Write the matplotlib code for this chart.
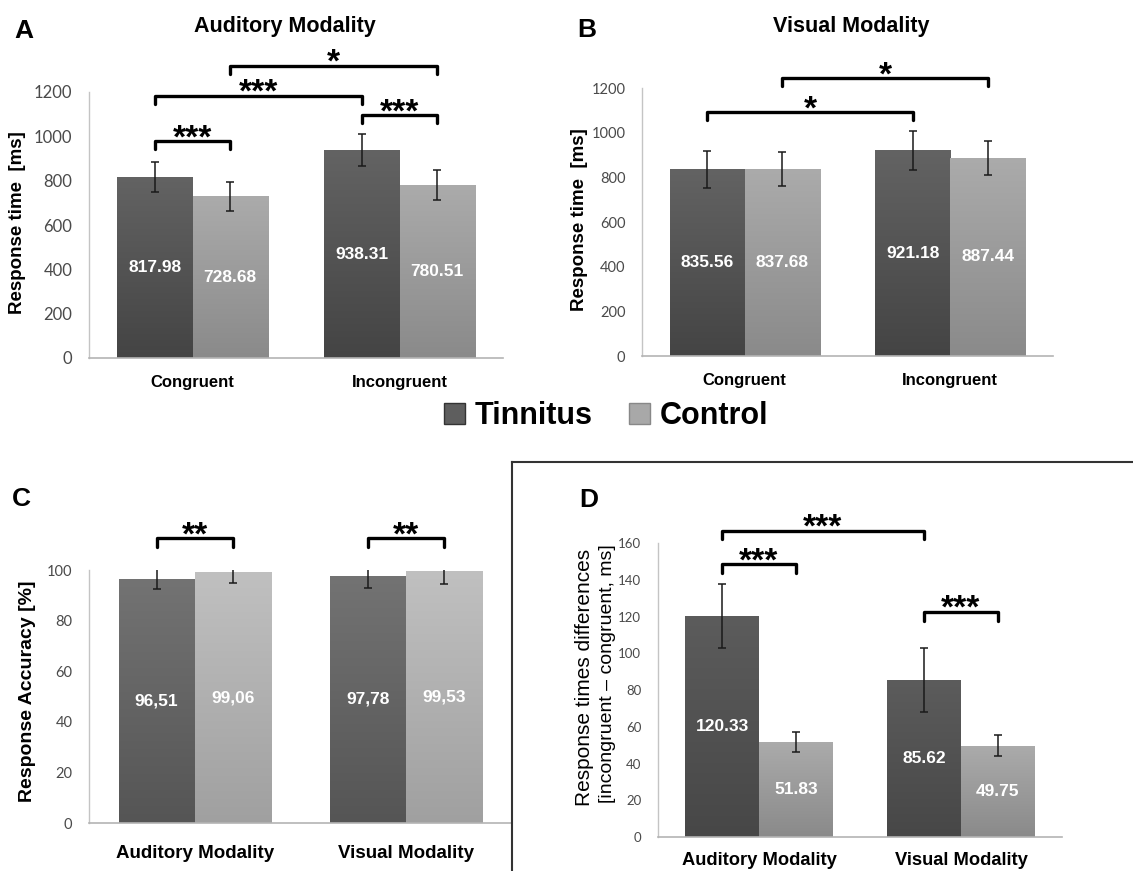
import numpy as np
import matplotlib
matplotlib.use('Agg')
import matplotlib.pyplot as plt
from matplotlib.colors import LinearSegmentedColormap
from matplotlib.patches import Patch
from matplotlib.lines import Line2D

# ---------------- data ----------------
cats_AB = ["Congruent", "Incongruent"]
cats_CD = ["Auditory Modality", "Visual Modality"]
series = ["Tinnitus", "Control"]

A_tin = [817.98, 938.31]
A_con = [728.68, 780.51]
A_tin_err = [68, 70]
A_con_err = [66, 66]

B_tin = [835.56, 921.18]
B_con = [837.68, 887.44]
B_tin_err = [83, 87]
B_con_err = [76, 76]

C_tin = [96.51, 97.78]
C_con = [99.06, 99.53]
C_tin_err = [4.0, 4.7]
C_con_err = [4.2, 5.0]

D_tin = [120.33, 85.62]
D_con = [51.83, 49.75]
D_tin_err = [17.4, 17.4]
D_con_err = [5.5, 5.5]

A_ticks = [0, 200, 400, 600, 800, 1000, 1200]
B_ticks = [0, 200, 400, 600, 800, 1000, 1200]
C_ticks = [0, 20, 40, 60, 80, 100]
D_ticks = [0, 20, 40, 60, 80, 100, 120, 140, 160]

# ---------------- figure ----------------
W, H = 1133, 871
fig = plt.figure(figsize=(W / 100, H / 100), dpi=100)
plt.rcParams['font.family'] = ['Liberation Sans', 'DejaVu Sans']


def fx(px):
    return px / W


def fy(py):
    return 1 - py / H


def axes_px(l, t, r, b):
    return fig.add_axes([fx(l), fy(b), fx(r) - fx(l), fy(t) - fy(b)])


def grad_bars(ax, bars, top, bottom):
    cmap = LinearSegmentedColormap.from_list('g', [bottom, top])
    grad = np.linspace(1, 0, 256).reshape(-1, 1)
    for r in bars:
        x0, w, h = r.get_x(), r.get_width(), r.get_height()
        r.set_facecolor(top)
        r.set_edgecolor('none')
        im = ax.imshow(grad, cmap=cmap, extent=[x0, x0 + w, 0, h], aspect='auto',
                       origin='upper', zorder=1.5, interpolation='bilinear')
        im.set_clip_path(r)


def panel(ax, cats, tin, con, tin_err, con_err, fmt, ylim, yticks, width,
          tcols, ccols, tick_fs, cat_fs, cat_pad):
    x = np.arange(len(cats))
    ekw = dict(ecolor='#1a1a1a', elinewidth=1.1, capsize=3, capthick=1.1, zorder=3)
    b1 = ax.bar(x - width / 2, tin, width, yerr=tin_err, error_kw=ekw, zorder=1)
    b2 = ax.bar(x + width / 2, con, width, yerr=con_err, error_kw=ekw, zorder=1)
    grad_bars(ax, b1, *tcols)
    grad_bars(ax, b2, *ccols)
    for bars, vals in ((b1, tin), (b2, con)):
        for r, v in zip(bars, vals):
            ax.text(r.get_x() + r.get_width() / 2, r.get_height() / 2, fmt(v),
                    ha='center', va='center', color='white', fontweight='bold',
                    fontsize=12.5, zorder=4)
    ax.set_xlim(-0.5, len(cats) - 0.5)
    ax.set_ylim(*ylim)
    ax.set_yticks(yticks)
    ax.set_xticks(x)
    ax.set_xticklabels(cats, fontweight='bold', fontsize=cat_fs)
    for lbl in ax.get_yticklabels():
        lbl.set_family(['Lato', 'DejaVu Sans'])
        lbl.set_fontsize(tick_fs)
        lbl.set_color('#4a4a4a')
    ax.tick_params(axis='y', length=0, pad=12)
    ax.tick_params(axis='x', length=0, pad=cat_pad)
    for s in ('top', 'right'):
        ax.spines[s].set_visible(False)
    ax.spines['left'].set_color('#c4c4c4')
    ax.spines['bottom'].set_color('#b4b4b4')
    ax.spines['left'].set_linewidth(1.0)
    ax.spines['bottom'].set_linewidth(1.2)
    ax.patch.set_alpha(0)
    return ([r.get_x() + r.get_width() / 2 for r in b1],
            [r.get_x() + r.get_width() / 2 for r in b2])


def bracket(ax, xa, xb, y, tip, stars, fs=24):
    ax.plot([xa, xa, xb, xb], [tip, y, y, tip], color='black', lw=2.4,
            solid_joinstyle='round', solid_capstyle='round', clip_on=False, zorder=5)
    ax.annotate(stars, xy=((xa + xb) / 2, y), xytext=(0, -4.3), textcoords='offset points',
                ha='center', va='baseline', fontsize=fs, fontweight='bold',
                annotation_clip=False)


dark = ('#636363', '#444444')
light = ('#ababab', '#8a8a8a')

# Panel A
axA = axes_px(89, 92, 503, 358)
t, c = panel(axA, cats_AB, A_tin, A_con, A_tin_err, A_con_err, lambda v: f"{v:.2f}",
             (0, 1200), A_ticks, 0.363, dark, light, 12, 12, 12)
pos = [t[0], c[0], t[1], c[1]]
bracket(axA, pos[0], pos[1], 977, 945, '***')
bracket(axA, pos[0], pos[2], 1182, 1145, '***')
bracket(axA, pos[1], pos[3], 1318, 1282, '*')
bracket(axA, pos[2], pos[3], 1095, 1059, '***')

# Panel B
axB = axes_px(642, 88, 1053, 356)
t, c = panel(axB, cats_AB, B_tin, B_con, B_tin_err, B_con_err, lambda v: f"{v:.2f}",
             (0, 1200), B_ticks, 0.365, dark, light, 10.5, 12, 12)
pos = [t[0], c[0], t[1], c[1]]
bracket(axB, pos[0], pos[2], 1091, 1055, '*')
bracket(axB, pos[1], pos[3], 1243, 1211, '*')

# Panel C
axC = axes_px(89, 570, 512, 823)
t, c = panel(axC, cats_CD, C_tin, C_con, C_tin_err, C_con_err,
             lambda v: f"{v:.2f}".replace('.', ','),
             (0, 100), C_ticks, 0.36, ('#737373', '#555555'), ('#c0c0c0', '#a0a0a0'),
             10.5, 13.5, 16)
pos = [t[0], c[0], t[1], c[1]]
bracket(axC, pos[0], pos[1], 112.6, 109, '**')
bracket(axC, pos[2], pos[3], 112.6, 109, '**')

# Panel D
axD = axes_px(658, 543, 1062, 837)
t, c = panel(axD, cats_CD, D_tin, D_con, D_tin_err, D_con_err, lambda v: f"{v:.2f}",
             (0, 160), D_ticks, 0.366, ('#5c5c5c', '#474747'), light, 9.5, 13.2, 11)
pos = [t[0], c[0], t[1], c[1]]
bracket(axD, pos[0], pos[1], 148.5, 143.6, '***')
bracket(axD, pos[0], pos[2], 166.5, 162, '***')
bracket(axD, pos[2], pos[3], 122.4, 117.5, '***')

# titles, letters, y labels
fig.text(fx(285), fy(32), "Auditory Modality", ha='center', va='baseline',
         fontsize=15.5, fontweight='bold')
fig.text(fx(851), fy(32), "Visual Modality", ha='center', va='baseline',
         fontsize=15.5, fontweight='bold')
for letter, px, py in (("A", 14, 38), ("B", 577, 37), ("C", 12, 506), ("D", 579, 507)):
    fig.text(fx(px), fy(py), letter, ha='left', va='baseline', fontsize=19, fontweight='bold')

fig.text(fx(18), fy(223), "Response time  [ms]", rotation=90, ha='center', va='center',
         fontsize=13.5, fontweight='bold')
fig.text(fx(580), fy(220), "Response time  [ms]", rotation=90, ha='center', va='center',
         fontsize=13.5, fontweight='bold')
fig.text(fx(28), fy(691), "Response Accuracy [%]", rotation=90, ha='center', va='center',
         fontsize=14, fontweight='bold')
fig.text(fx(585), fy(677), "Response times differences", rotation=90, ha='center',
         va='center', fontsize=15)
fig.text(fx(607), fy(674), "[incongruent \u2013 congruent, ms]", rotation=90, ha='center',
         va='center', fontsize=14)

# legend
handles = [Patch(facecolor='#5e5e5e', edgecolor='#333333', lw=1),
           Patch(facecolor='#a8a8a8', edgecolor='#888888', lw=1)]
fig.legend(handles, series, loc='center', bbox_to_anchor=(fx(606), fy(416)), ncol=2,
           frameon=False, prop=dict(size=22, weight='bold'), handlelength=0.7,
           handleheight=0.7, handletextpad=0.3, columnspacing=1.2)

# box around panel D
fig.add_artist(Line2D([fx(512), fx(512)], [fy(462), fy(871)], color='#333333', lw=1.5))
fig.add_artist(Line2D([fx(512), fx(1133)], [fy(462), fy(462)], color='#333333', lw=1.5))

fig.savefig('out.png', dpi=100)
